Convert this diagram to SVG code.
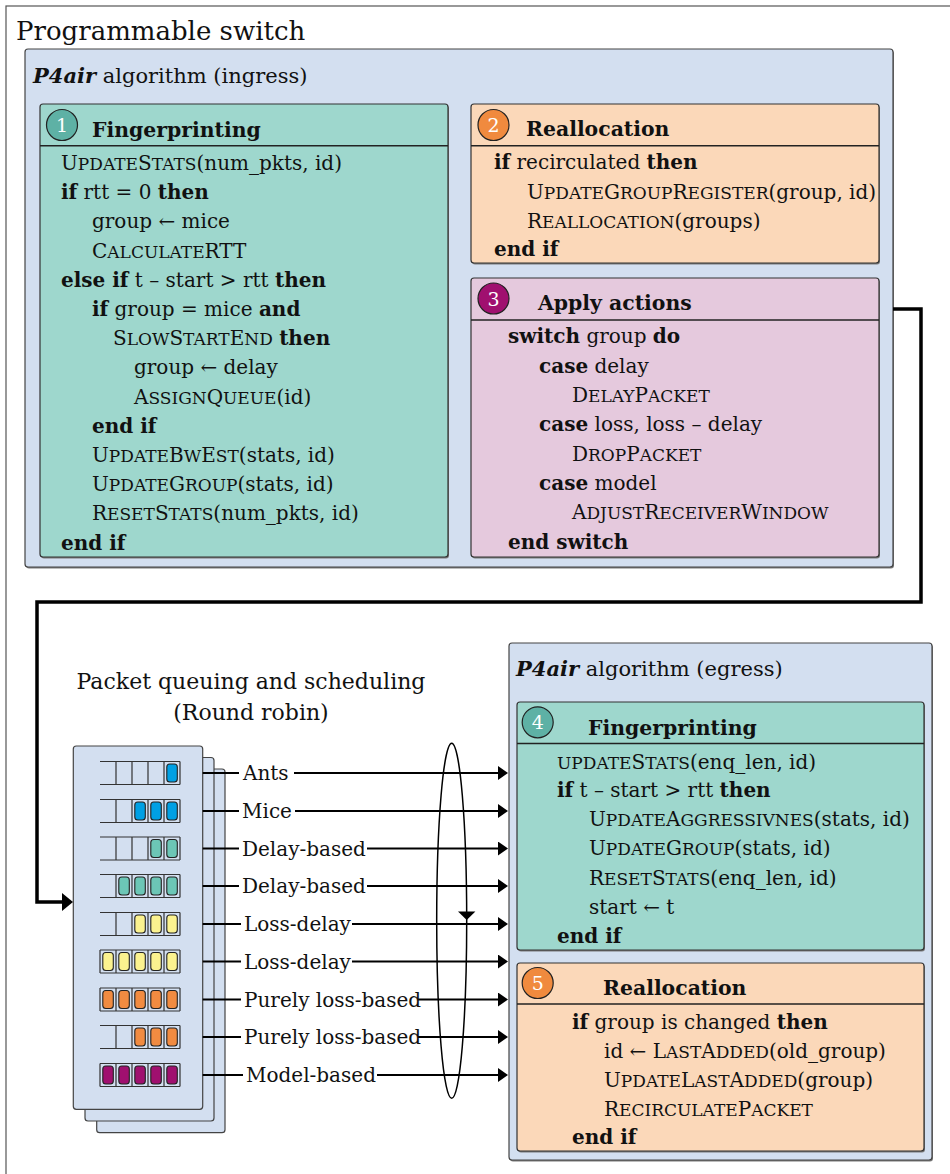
<svg xmlns="http://www.w3.org/2000/svg" width="950" height="1174" viewBox="0 0 950 1174">
<style>
text{font-family:"DejaVu Serif","Liberation Serif",serif;fill:#111;font-size:20px}
.b{font-weight:bold}
.bi{font-weight:bold;font-style:italic}
.s{font-size:17px}
.h{font-weight:bold;font-size:20.4px}
.num{fill:#fff;font-size:19px;text-anchor:middle}
.lbl{font-size:20px}
.ttl{font-size:21px}
.algo{fill:#d3dff0;stroke:#444;stroke-width:1.2}
.shadow{fill:#7a7a7a}
.fp{fill:#9ed7cd;stroke:#333;stroke-width:1.2}
.re{fill:#fbd8b9;stroke:#333;stroke-width:1.2}
.ap{fill:#e5c9dd;stroke:#333;stroke-width:1.2}
.sep{stroke:#222;stroke-width:1.5}
.cfp{fill:#5eb1a5;stroke:#222;stroke-width:1.2}
.cre{fill:#f08a3e;stroke:#222;stroke-width:1.2}
.cap{fill:#a0106f;stroke:#222;stroke-width:1.2}
.qbox{fill:#d3dff0;stroke:#444;stroke-width:1.2}
.qline{stroke:#333;stroke-width:1.2;fill:none}
.pk{stroke:#222;stroke-width:1.1}
.blue{fill:#00a0e4}
.teal{fill:#6cc6b6}
.yel{fill:#fbf28f}
.ora{fill:#f18b41}
.mag{fill:#a0106f}
.conn{stroke:#000;stroke-width:2.2;fill:none}
.big{stroke:#000;stroke-width:3.5;fill:none}
</style>
<defs>
<marker id="ah" markerUnits="userSpaceOnUse" markerWidth="10" markerHeight="14" refX="0" refY="7" orient="auto">
<path d="M0,0 L10,7 L0,14 z" fill="#000"/>
</marker>
<marker id="ahb" markerUnits="userSpaceOnUse" markerWidth="11" markerHeight="18" refX="0" refY="9" orient="auto">
<path d="M0,0 L11,9 L0,18 z" fill="#000"/>
</marker>
</defs>

<g id="switch">
<rect x="6" y="6" width="960" height="1180" fill="#fff" stroke="#555" stroke-width="1.2"/>
<text x="16" y="40" style="font-size:26px">Programmable switch</text>
</g>

<g id="ingress">
<rect class="shadow" x="26" y="50.5" width="868" height="518" rx="3"/>
<rect class="algo" x="25" y="49" width="868" height="518" rx="3"/>
<text class="ttl" x="33" y="83"><tspan class="bi">P4air</tspan> algorithm (ingress)</text>
</g>

<g id="fingerprinting-ingress">
<rect class="shadow" x="41" y="105.5" width="408" height="453" rx="3"/>
<rect class="fp" x="40" y="104" width="408" height="453" rx="3"/>
<line class="sep" x1="40" y1="145.7" x2="448" y2="145.7"/>
<circle class="cfp" cx="62" cy="125" r="15.5"/>
<text class="num" x="62" y="132">1</text>
<text class="h" x="92" y="136.5">Fingerprinting</text>
<text x="61" y="170">U<tspan class="s">PDATE</tspan>S<tspan class="s">TATS</tspan>(num_pkts, id)</text>
<text x="61" y="199.2"><tspan class="b">if</tspan> rtt = 0 <tspan class="b">then</tspan></text>
<text x="92" y="228.4">group ← mice</text>
<text x="92" y="257.6">C<tspan class="s">ALCULATE</tspan>RTT</text>
<text x="61" y="286.8"><tspan class="b">else if</tspan> t – start &gt; rtt <tspan class="b">then</tspan></text>
<text x="92" y="316"><tspan class="b">if</tspan> group = mice  <tspan class="b">and</tspan></text>
<text x="113" y="345.2">S<tspan class="s">LOW</tspan>S<tspan class="s">TART</tspan>E<tspan class="s">ND</tspan> <tspan class="b">then</tspan></text>
<text x="134" y="374.4">group ← delay</text>
<text x="134" y="403.6">A<tspan class="s">SSIGN</tspan>Q<tspan class="s">UEUE</tspan>(id)</text>
<text x="92" y="432.8" class="b">end if</text>
<text x="92" y="462">U<tspan class="s">PDATE</tspan>B<tspan class="s">W</tspan>E<tspan class="s">ST</tspan>(stats, id)</text>
<text x="92" y="491.2">U<tspan class="s">PDATE</tspan>G<tspan class="s">ROUP</tspan>(stats, id)</text>
<text x="92" y="520.4">R<tspan class="s">ESET</tspan>S<tspan class="s">TATS</tspan>(num_pkts, id)</text>
<text x="61" y="549.6" class="b">end if</text>
</g>

<g id="reallocation-ingress">
<rect class="shadow" x="472" y="105.5" width="408" height="159" rx="3"/>
<rect class="re" x="471" y="104" width="408" height="159" rx="3"/>
<line class="sep" x1="471" y1="145.7" x2="879" y2="145.7"/>
<circle class="cre" cx="493.5" cy="125" r="15.5"/>
<text class="num" x="493.5" y="132">2</text>
<text class="h" x="526" y="136">Reallocation</text>
<text x="494" y="169"><tspan class="b">if</tspan> recirculated <tspan class="b">then</tspan></text>
<text x="527" y="199">U<tspan class="s">PDATE</tspan>G<tspan class="s">ROUP</tspan>R<tspan class="s">EGISTER</tspan>(group, id)</text>
<text x="527" y="228">R<tspan class="s">EALLOCATION</tspan>(groups)</text>
<text x="494" y="256" class="b">end if</text>
</g>

<g id="apply-actions">
<rect class="shadow" x="472" y="279.5" width="408" height="279" rx="3"/>
<rect class="ap" x="471" y="278" width="408" height="279" rx="3"/>
<line class="sep" x1="471" y1="320" x2="879" y2="320"/>
<circle class="cap" cx="493.5" cy="298.5" r="15.5"/>
<text class="num" x="493.5" y="305.5">3</text>
<text class="h" x="538" y="310">Apply actions</text>
<text x="508" y="343"><tspan class="b">switch</tspan> group <tspan class="b">do</tspan></text>
<text x="539" y="372.5"><tspan class="b">case</tspan> delay</text>
<text x="572" y="401.5">D<tspan class="s">ELAY</tspan>P<tspan class="s">ACKET</tspan></text>
<text x="539" y="431"><tspan class="b">case</tspan> loss, loss – delay</text>
<text x="572" y="460.5">D<tspan class="s">ROP</tspan>P<tspan class="s">ACKET</tspan></text>
<text x="539" y="489.5"><tspan class="b">case</tspan> model</text>
<text x="572" y="519">A<tspan class="s">DJUST</tspan>R<tspan class="s">ECEIVER</tspan>W<tspan class="s">INDOW</tspan></text>
<text x="508" y="549" class="b">end switch</text>
</g>

<g id="queues">
<text x="251" y="689" text-anchor="middle" style="font-size:22px">Packet queuing and scheduling</text>
<text x="251" y="720" text-anchor="middle" style="font-size:22px">(Round robin)</text>
<rect class="qbox" x="96.7" y="769" width="128.3" height="363.7" rx="3"/>
<rect class="qbox" x="85" y="757.5" width="129" height="363.5" rx="3"/>
<rect class="qbox" x="73.3" y="746" width="129.4" height="363.3" rx="3"/>
<g transform="translate(0,773)">
<path class="qline" d="M100,-11.5H180M100,11.5H180M116,-11.5V11.5M132,-11.5V11.5M148,-11.5V11.5M164,-11.5V11.5M180,-11.5V11.5"/>
<rect class="pk blue" x="166.8" y="-9" width="10.5" height="18" rx="3"/>
</g>
<g transform="translate(0,811)">
<path class="qline" d="M100,-11.5H180M100,11.5H180M116,-11.5V11.5M132,-11.5V11.5M148,-11.5V11.5M164,-11.5V11.5M180,-11.5V11.5"/>
<rect class="pk blue" x="134.8" y="-9" width="10.5" height="18" rx="3"/>
<rect class="pk blue" x="150.8" y="-9" width="10.5" height="18" rx="3"/>
<rect class="pk blue" x="166.8" y="-9" width="10.5" height="18" rx="3"/>
</g>
<g transform="translate(0,848.5)">
<path class="qline" d="M100,-11.5H180M100,11.5H180M116,-11.5V11.5M132,-11.5V11.5M148,-11.5V11.5M164,-11.5V11.5M180,-11.5V11.5"/>
<rect class="pk teal" x="150.8" y="-9" width="10.5" height="18" rx="3"/>
<rect class="pk teal" x="166.8" y="-9" width="10.5" height="18" rx="3"/>
</g>
<g transform="translate(0,886)">
<path class="qline" d="M100,-11.5H180M100,11.5H180M116,-11.5V11.5M132,-11.5V11.5M148,-11.5V11.5M164,-11.5V11.5M180,-11.5V11.5"/>
<rect class="pk teal" x="118.8" y="-9" width="10.5" height="18" rx="3"/>
<rect class="pk teal" x="134.8" y="-9" width="10.5" height="18" rx="3"/>
<rect class="pk teal" x="150.8" y="-9" width="10.5" height="18" rx="3"/>
<rect class="pk teal" x="166.8" y="-9" width="10.5" height="18" rx="3"/>
</g>
<g transform="translate(0,924)">
<path class="qline" d="M100,-11.5H180M100,11.5H180M116,-11.5V11.5M132,-11.5V11.5M148,-11.5V11.5M164,-11.5V11.5M180,-11.5V11.5"/>
<rect class="pk yel" x="134.8" y="-9" width="10.5" height="18" rx="3"/>
<rect class="pk yel" x="150.8" y="-9" width="10.5" height="18" rx="3"/>
<rect class="pk yel" x="166.8" y="-9" width="10.5" height="18" rx="3"/>
</g>
<g transform="translate(0,961.5)">
<path class="qline" d="M100,-11.5H180M100,11.5H180M100,-11.5V11.5M116,-11.5V11.5M132,-11.5V11.5M148,-11.5V11.5M164,-11.5V11.5M180,-11.5V11.5"/>
<rect class="pk yel" x="102.8" y="-9" width="10.5" height="18" rx="3"/>
<rect class="pk yel" x="118.8" y="-9" width="10.5" height="18" rx="3"/>
<rect class="pk yel" x="134.8" y="-9" width="10.5" height="18" rx="3"/>
<rect class="pk yel" x="150.8" y="-9" width="10.5" height="18" rx="3"/>
<rect class="pk yel" x="166.8" y="-9" width="10.5" height="18" rx="3"/>
</g>
<g transform="translate(0,999.5)">
<path class="qline" d="M100,-11.5H180M100,11.5H180M100,-11.5V11.5M116,-11.5V11.5M132,-11.5V11.5M148,-11.5V11.5M164,-11.5V11.5M180,-11.5V11.5"/>
<rect class="pk ora" x="102.8" y="-9" width="10.5" height="18" rx="3"/>
<rect class="pk ora" x="118.8" y="-9" width="10.5" height="18" rx="3"/>
<rect class="pk ora" x="134.8" y="-9" width="10.5" height="18" rx="3"/>
<rect class="pk ora" x="150.8" y="-9" width="10.5" height="18" rx="3"/>
<rect class="pk ora" x="166.8" y="-9" width="10.5" height="18" rx="3"/>
</g>
<g transform="translate(0,1037)">
<path class="qline" d="M100,-11.5H180M100,11.5H180M116,-11.5V11.5M132,-11.5V11.5M148,-11.5V11.5M164,-11.5V11.5M180,-11.5V11.5"/>
<rect class="pk ora" x="134.8" y="-9" width="10.5" height="18" rx="3"/>
<rect class="pk ora" x="150.8" y="-9" width="10.5" height="18" rx="3"/>
<rect class="pk ora" x="166.8" y="-9" width="10.5" height="18" rx="3"/>
</g>
<g transform="translate(0,1075)">
<path class="qline" d="M100,-11.5H180M100,11.5H180M100,-11.5V11.5M116,-11.5V11.5M132,-11.5V11.5M148,-11.5V11.5M164,-11.5V11.5M180,-11.5V11.5"/>
<rect class="pk mag" x="102.8" y="-9" width="10.5" height="18" rx="3"/>
<rect class="pk mag" x="118.8" y="-9" width="10.5" height="18" rx="3"/>
<rect class="pk mag" x="134.8" y="-9" width="10.5" height="18" rx="3"/>
<rect class="pk mag" x="150.8" y="-9" width="10.5" height="18" rx="3"/>
<rect class="pk mag" x="166.8" y="-9" width="10.5" height="18" rx="3"/>
</g>
</g>

<g id="egress">
<rect class="shadow" x="510" y="644.5" width="423" height="517" rx="3"/>
<rect class="algo" x="509" y="643" width="423" height="517" rx="3"/>
<text class="ttl" x="516" y="676"><tspan class="bi">P4air</tspan> algorithm (egress)</text>
</g>

<g id="fingerprinting-egress">
<rect class="shadow" x="518" y="703.5" width="407" height="248" rx="3"/>
<rect class="fp" x="517" y="702" width="407" height="248" rx="3"/>
<line class="sep" x1="517" y1="743.5" x2="924" y2="743.5"/>
<circle class="cfp" cx="537.7" cy="722.3" r="15.5"/>
<text class="num" x="537.7" y="729.3">4</text>
<text class="h" x="588" y="735">Fingerprinting</text>
<text x="557" y="768.5"><tspan class="s">UPDATE</tspan>S<tspan class="s">TATS</tspan>(enq_len, id)</text>
<text x="557" y="797"><tspan class="b">if</tspan> t – start &gt; rtt <tspan class="b">then</tspan></text>
<text x="589" y="826">U<tspan class="s">PDATE</tspan>A<tspan class="s">GGRESSIVNES</tspan>(stats, id)</text>
<text x="589" y="855">U<tspan class="s">PDATE</tspan>G<tspan class="s">ROUP</tspan>(stats, id)</text>
<text x="589" y="884.5">R<tspan class="s">ESET</tspan>S<tspan class="s">TATS</tspan>(enq_len, id)</text>
<text x="589" y="914">start ← t</text>
<text x="557" y="943" class="b">end if</text>
</g>

<g id="reallocation-egress">
<rect class="shadow" x="518" y="964.5" width="407" height="188" rx="3"/>
<rect class="re" x="517" y="963" width="407" height="188" rx="3"/>
<line class="sep" x1="517" y1="1004" x2="924" y2="1004"/>
<circle class="cre" cx="537.7" cy="983" r="15.5"/>
<text class="num" x="537.7" y="990">5</text>
<text class="h" x="603" y="994.5">Reallocation</text>
<text x="572" y="1028.5"><tspan class="b">if</tspan> group is changed <tspan class="b">then</tspan></text>
<text x="604" y="1057.5">id ← L<tspan class="s">AST</tspan>A<tspan class="s">DDED</tspan>(old_group)</text>
<text x="604" y="1086.5">U<tspan class="s">PDATE</tspan>L<tspan class="s">AST</tspan>A<tspan class="s">DDED</tspan>(group)</text>
<text x="604" y="1115.5">R<tspan class="s">ECIRCULATE</tspan>P<tspan class="s">ACKET</tspan></text>
<text x="572" y="1144" class="b">end if</text>
</g>

<g id="connectors">
<path class="big" d="M893,309 H921 V602 H37 V902 H62" marker-end="url(#ahb)"/>
<ellipse cx="451.7" cy="920.8" rx="15" ry="177.5" fill="none" stroke="#000" stroke-width="1.5"/>
<path d="M458,911.5 L475.4,911.5 L466.7,920 z" fill="#000"/>
<g>
<path class="conn" d="M202.7,773 H239"/><path class="conn" d="M294,773 H498" marker-end="url(#ah)"/>
<path class="conn" d="M202.7,811 H239"/><path class="conn" d="M295,811 H498" marker-end="url(#ah)"/>
<path class="conn" d="M202.7,848.5 H239"/><path class="conn" d="M367,848.5 H498" marker-end="url(#ah)"/>
<path class="conn" d="M202.7,886 H239"/><path class="conn" d="M367,886 H498" marker-end="url(#ah)"/>
<path class="conn" d="M202.7,924 H241"/><path class="conn" d="M352,924 H498" marker-end="url(#ah)"/>
<path class="conn" d="M202.7,961.5 H241"/><path class="conn" d="M352,961.5 H498" marker-end="url(#ah)"/>
<path class="conn" d="M202.7,999.5 H241"/><path class="conn" d="M418,999.5 H498" marker-end="url(#ah)"/>
<path class="conn" d="M202.7,1037 H241"/><path class="conn" d="M418,1037 H498" marker-end="url(#ah)"/>
<path class="conn" d="M202.7,1075 H243"/><path class="conn" d="M377,1075 H498" marker-end="url(#ah)"/>
</g>
<text class="lbl" x="243" y="780">Ants</text>
<text class="lbl" x="242" y="818">Mice</text>
<text class="lbl" x="242" y="855.5">Delay-based</text>
<text class="lbl" x="242" y="893">Delay-based</text>
<text class="lbl" x="244" y="931">Loss-delay</text>
<text class="lbl" x="244" y="968.5">Loss-delay</text>
<text class="lbl" x="244" y="1006.5">Purely loss-based</text>
<text class="lbl" x="244" y="1044">Purely loss-based</text>
<text class="lbl" x="246" y="1082">Model-based</text>
</g>
</svg>
